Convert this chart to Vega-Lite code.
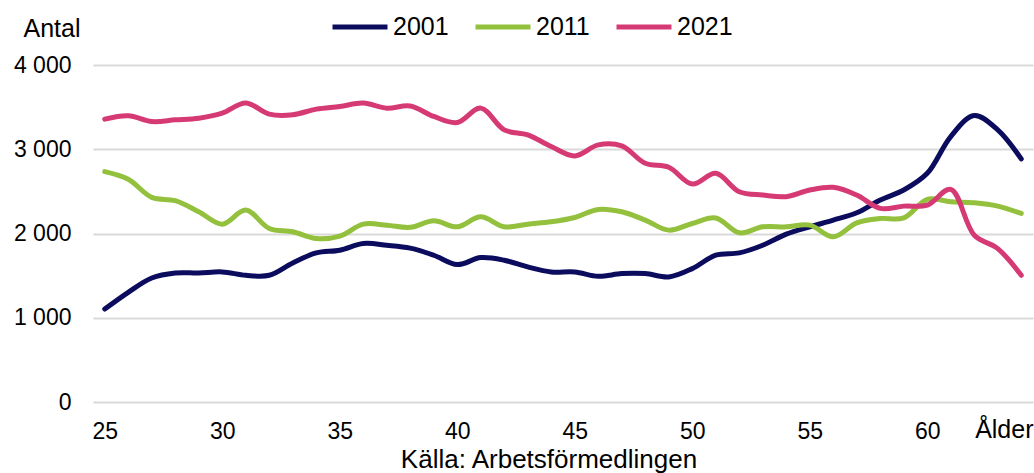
{
  "$schema": "https://vega.github.io/schema/vega-lite/v6.json",
  "width": 940,
  "height": 337,
  "autosize": {"type": "none"},
  "padding": {"left": 93, "top": 65, "right": 1, "bottom": 71},
  "background": "white",
  "config": {
    "font": "Liberation Sans",
    "view": {"stroke": null},
    "axis": {"labelColor": "#000000", "titleColor": "#000000", "titleFontWeight": "normal"}
  },
  "title": {
    "text": "Källa: Arbetsförmedlingen",
    "orient": "bottom",
    "anchor": "middle",
    "fontSize": 26,
    "fontWeight": "normal",
    "color": "#000000",
    "font": "Liberation Sans",
    "offset": 4,
    "dx": -14
  },
  "data": {
    "values": [
      {"age": 25, "year": "2001", "value": 1103}, {"age": 26, "year": "2001", "value": 1302}, {"age": 27, "year": "2001", "value": 1472}, {"age": 28, "year": "2001", "value": 1532}, {"age": 29, "year": "2001", "value": 1532},
      {"age": 30, "year": "2001", "value": 1544}, {"age": 31, "year": "2001", "value": 1504}, {"age": 32, "year": "2001", "value": 1504}, {"age": 33, "year": "2001", "value": 1651}, {"age": 34, "year": "2001", "value": 1770},
      {"age": 35, "year": "2001", "value": 1802}, {"age": 36, "year": "2001", "value": 1881}, {"age": 37, "year": "2001", "value": 1861}, {"age": 38, "year": "2001", "value": 1827}, {"age": 39, "year": "2001", "value": 1742},
      {"age": 40, "year": "2001", "value": 1631}, {"age": 41, "year": "2001", "value": 1714}, {"age": 42, "year": "2001", "value": 1683}, {"age": 43, "year": "2001", "value": 1603}, {"age": 44, "year": "2001", "value": 1544},
      {"age": 45, "year": "2001", "value": 1544}, {"age": 46, "year": "2001", "value": 1492}, {"age": 47, "year": "2001", "value": 1524}, {"age": 48, "year": "2001", "value": 1524}, {"age": 49, "year": "2001", "value": 1484},
      {"age": 50, "year": "2001", "value": 1583}, {"age": 51, "year": "2001", "value": 1742}, {"age": 52, "year": "2001", "value": 1770}, {"age": 53, "year": "2001", "value": 1861}, {"age": 54, "year": "2001", "value": 1992},
      {"age": 55, "year": "2001", "value": 2079}, {"age": 56, "year": "2001", "value": 2159}, {"age": 57, "year": "2001", "value": 2246}, {"age": 58, "year": "2001", "value": 2397}, {"age": 59, "year": "2001", "value": 2516},
      {"age": 60, "year": "2001", "value": 2714}, {"age": 61, "year": "2001", "value": 3151}, {"age": 62, "year": "2001", "value": 3400}, {"age": 63, "year": "2001", "value": 3230}, {"age": 64, "year": "2001", "value": 2885},
      {"age": 25, "year": "2011", "value": 2734}, {"age": 26, "year": "2011", "value": 2643}, {"age": 27, "year": "2011", "value": 2429}, {"age": 28, "year": "2011", "value": 2389}, {"age": 29, "year": "2011", "value": 2258},
      {"age": 30, "year": "2011", "value": 2111}, {"age": 31, "year": "2011", "value": 2278}, {"age": 32, "year": "2011", "value": 2060}, {"age": 33, "year": "2011", "value": 2020}, {"age": 34, "year": "2011", "value": 1940},
      {"age": 35, "year": "2011", "value": 1968}, {"age": 36, "year": "2011", "value": 2111}, {"age": 37, "year": "2011", "value": 2099}, {"age": 38, "year": "2011", "value": 2073}, {"age": 39, "year": "2011", "value": 2151},
      {"age": 40, "year": "2011", "value": 2079}, {"age": 41, "year": "2011", "value": 2198}, {"age": 42, "year": "2011", "value": 2079}, {"age": 43, "year": "2011", "value": 2111}, {"age": 44, "year": "2011", "value": 2139},
      {"age": 45, "year": "2011", "value": 2190}, {"age": 46, "year": "2011", "value": 2286}, {"age": 47, "year": "2011", "value": 2258}, {"age": 48, "year": "2011", "value": 2159}, {"age": 49, "year": "2011", "value": 2040},
      {"age": 50, "year": "2011", "value": 2119}, {"age": 51, "year": "2011", "value": 2184}, {"age": 52, "year": "2011", "value": 2008}, {"age": 53, "year": "2011", "value": 2079}, {"age": 54, "year": "2011", "value": 2079},
      {"age": 55, "year": "2011", "value": 2099}, {"age": 56, "year": "2011", "value": 1960}, {"age": 57, "year": "2011", "value": 2127}, {"age": 58, "year": "2011", "value": 2178}, {"age": 59, "year": "2011", "value": 2186},
      {"age": 60, "year": "2011", "value": 2405}, {"age": 61, "year": "2011", "value": 2377}, {"age": 62, "year": "2011", "value": 2365}, {"age": 63, "year": "2011", "value": 2325}, {"age": 64, "year": "2011", "value": 2238},
      {"age": 25, "year": "2021", "value": 3357}, {"age": 26, "year": "2021", "value": 3397}, {"age": 27, "year": "2021", "value": 3329}, {"age": 28, "year": "2021", "value": 3349}, {"age": 29, "year": "2021", "value": 3369},
      {"age": 30, "year": "2021", "value": 3429}, {"age": 31, "year": "2021", "value": 3548}, {"age": 32, "year": "2021", "value": 3417}, {"age": 33, "year": "2021", "value": 3409}, {"age": 34, "year": "2021", "value": 3476},
      {"age": 35, "year": "2021", "value": 3508}, {"age": 36, "year": "2021", "value": 3548}, {"age": 37, "year": "2021", "value": 3488}, {"age": 38, "year": "2021", "value": 3514}, {"age": 39, "year": "2021", "value": 3389},
      {"age": 40, "year": "2021", "value": 3317}, {"age": 41, "year": "2021", "value": 3488}, {"age": 42, "year": "2021", "value": 3230}, {"age": 43, "year": "2021", "value": 3171}, {"age": 44, "year": "2021", "value": 3032},
      {"age": 45, "year": "2021", "value": 2921}, {"age": 46, "year": "2021", "value": 3052}, {"age": 47, "year": "2021", "value": 3040}, {"age": 48, "year": "2021", "value": 2833}, {"age": 49, "year": "2021", "value": 2786},
      {"age": 50, "year": "2021", "value": 2587}, {"age": 51, "year": "2021", "value": 2714}, {"age": 52, "year": "2021", "value": 2496}, {"age": 53, "year": "2021", "value": 2456}, {"age": 54, "year": "2021", "value": 2437},
      {"age": 55, "year": "2021", "value": 2516}, {"age": 56, "year": "2021", "value": 2548}, {"age": 57, "year": "2021", "value": 2456}, {"age": 58, "year": "2021", "value": 2298}, {"age": 59, "year": "2021", "value": 2325},
      {"age": 60, "year": "2021", "value": 2337}, {"age": 61, "year": "2021", "value": 2524}, {"age": 62, "year": "2021", "value": 1980}, {"age": 63, "year": "2021", "value": 1821}, {"age": 64, "year": "2021", "value": 1504}
    ]
  },
  "mark": {"type": "line", "strokeWidth": 5, "strokeCap": "round", "strokeJoin": "round", "interpolate": "catmull-rom"},
  "encoding": {
    "x": {
      "field": "age",
      "type": "quantitative",
      "scale": {"domain": [24.5, 64.5], "nice": false, "zero": false},
      "axis": {
        "title": "Ålder",
        "titleFontSize": 25,
        "titleX": 940,
        "titleY": 35,
        "titleAlign": "right",
        "titleBaseline": "alphabetic",
        "titleAngle": 0,
        "values": [25, 30, 35, 40, 45, 50, 55, 60],
        "grid": false,
        "domain": false,
        "ticks": false,
        "labelFontSize": 23,
        "labelPadding": 18,
        "labelFlush": false,
        "labelOverlap": false
      }
    },
    "y": {
      "field": "value",
      "type": "quantitative",
      "scale": {"domain": [0, 4000], "nice": false},
      "axis": {
        "title": "Antal",
        "titleFontSize": 25,
        "titleAngle": 0,
        "titleAlign": "left",
        "titleBaseline": "alphabetic",
        "titleX": -70,
        "titleY": -29,
        "values": [0, 1000, 2000, 3000, 4000],
        "labelExpr": "replace(format(datum.value, ','), ',', ' ')",
        "labelFontSize": 23,
        "labelPadding": 22,
        "ticks": false,
        "domain": false,
        "grid": true,
        "gridColor": "#d9d9d9",
        "gridWidth": 2
      }
    },
    "color": {
      "field": "year",
      "type": "nominal",
      "scale": {"domain": ["2001", "2011", "2021"], "range": ["#0c0c5e", "#93c13d", "#d63a74"]},
      "legend": {
        "title": null,
        "orient": "none",
        "direction": "horizontal",
        "legendX": 237,
        "legendY": -68,
        "padding": 0,
        "symbolType": "stroke",
        "symbolSize": 3025,
        "symbolStrokeWidth": 5,
        "labelFontSize": 25,
        "labelColor": "#000000",
        "labelOffset": 3,
        "columnPadding": 16
      }
    }
  }
}
